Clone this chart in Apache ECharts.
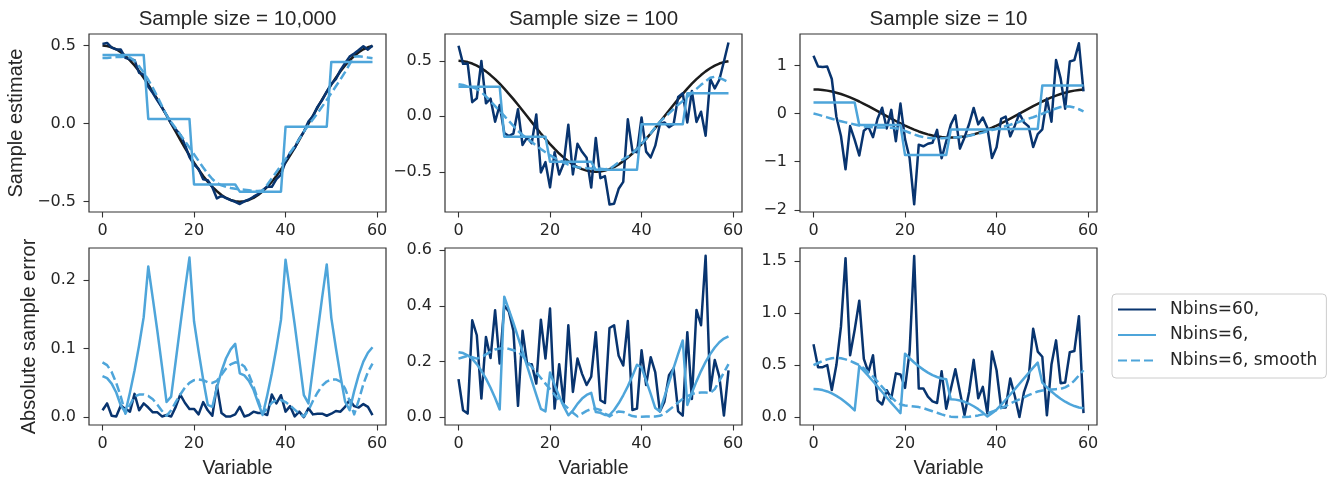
<!DOCTYPE html>
<html>
<head>
<meta charset="utf-8">
<title>Sample estimate and absolute error by sample size</title>
<script src="https://cdn.jsdelivr.net/npm/echarts@6.0.0/dist/echarts.min.js"></script>
<style>
  html, body { margin: 0; padding: 0; background: #fff; }
  #chart { width: 1338px; height: 481px; }
</style>
</head>
<body>
<div id="chart"></div>
<script>
// values, one entry per variable (0..59)
const truth = [0.500, 0.497, 0.489, 0.476, 0.457, 0.433, 0.405, 0.372, 0.335, 0.294, 0.250, 0.203, 0.155, 0.104, 0.052, 0.000, -0.052, -0.104, -0.155, -0.203,
  -0.250, -0.294, -0.335, -0.372, -0.405, -0.433, -0.457, -0.476, -0.489, -0.497, -0.500, -0.497, -0.489, -0.476, -0.457, -0.433, -0.405, -0.372, -0.335, -0.294,
  -0.250, -0.203, -0.155, -0.104, -0.052, 0.000, 0.052, 0.104, 0.155, 0.203, 0.250, 0.294, 0.335, 0.372, 0.405, 0.433, 0.457, 0.476, 0.489, 0.497];

// sample size = 10,000
const est60_10000 = [0.510, 0.517, 0.487, 0.475, 0.474, 0.421, 0.412, 0.406, 0.325, 0.314, 0.236, 0.196, 0.148, 0.103, 0.055, 0.001, -0.037, -0.071, -0.134, -0.215,
  -0.262, -0.290, -0.357, -0.362, -0.407, -0.479, -0.463, -0.477, -0.490, -0.501, -0.515, -0.498, -0.486, -0.468, -0.451, -0.427, -0.402, -0.405, -0.355, -0.326,
  -0.242, -0.187, -0.155, -0.096, -0.052, 0.013, 0.048, 0.109, 0.150, 0.205, 0.255, 0.285, 0.343, 0.387, 0.429, 0.449, 0.471, 0.495, 0.474, 0.500];
const step6_10000 = [0.44, 0.44, 0.44, 0.44, 0.44, 0.44, 0.44, 0.44, 0.44, 0.44, 0.03, 0.03, 0.03, 0.03, 0.03, 0.03, 0.03, 0.03, 0.03, 0.03,
  -0.39, -0.39, -0.39, -0.39, -0.39, -0.39, -0.39, -0.39, -0.39, -0.39, -0.436, -0.436, -0.436, -0.436, -0.436, -0.436, -0.436, -0.436, -0.436, -0.436,
  -0.02, -0.02, -0.02, -0.02, -0.02, -0.02, -0.02, -0.02, -0.02, -0.02, 0.395, 0.395, 0.395, 0.395, 0.395, 0.395, 0.395, 0.395, 0.395, 0.395];
const smooth6_10000 = [0.420, 0.421, 0.423, 0.426, 0.427, 0.428, 0.423, 0.402, 0.368, 0.327, 0.281, 0.229, 0.173, 0.113, 0.054, 0.010, -0.030, -0.071, -0.112, -0.153,
  -0.196, -0.239, -0.281, -0.321, -0.355, -0.380, -0.395, -0.405, -0.412, -0.417, -0.421, -0.423, -0.427, -0.431, -0.432, -0.428, -0.392, -0.351, -0.310, -0.269,
  -0.228, -0.186, -0.144, -0.099, -0.051, -0.010, 0.028, 0.068, 0.109, 0.151, 0.195, 0.239, 0.283, 0.330, 0.381, 0.429, 0.432, 0.428, 0.423, 0.419];
const err60_10000 = [0.010, 0.020, 0.002, 0.001, 0.017, 0.012, 0.008, 0.034, 0.010, 0.020, 0.014, 0.007, 0.007, 0.001, 0.003, 0.001, 0.015, 0.033, 0.021, 0.012,
  0.012, 0.004, 0.022, 0.010, 0.002, 0.046, 0.006, 0.001, 0.001, 0.004, 0.015, 0.001, 0.003, 0.008, 0.006, 0.006, 0.003, 0.033, 0.020, 0.032,
  0.008, 0.016, 0.001, 0.008, 0.000, 0.013, 0.004, 0.005, 0.005, 0.002, 0.005, 0.009, 0.008, 0.015, 0.025, 0.016, 0.014, 0.019, 0.015, 0.003];
const errStep6_10000 = [0.060, 0.057, 0.049, 0.036, 0.017, 0.007, 0.036, 0.068, 0.105, 0.146, 0.220, 0.173, 0.125, 0.074, 0.022, 0.030, 0.082, 0.134, 0.185, 0.233,
  0.140, 0.096, 0.055, 0.018, 0.015, 0.043, 0.067, 0.086, 0.099, 0.107, 0.064, 0.061, 0.053, 0.040, 0.021, 0.003, 0.032, 0.064, 0.101, 0.142,
  0.230, 0.183, 0.135, 0.084, 0.032, 0.020, 0.072, 0.124, 0.175, 0.223, 0.145, 0.101, 0.060, 0.023, 0.010, 0.038, 0.062, 0.081, 0.094, 0.102];
const errSmooth6_10000 = [0.080, 0.076, 0.066, 0.050, 0.030, 0.005, 0.018, 0.030, 0.033, 0.033, 0.031, 0.026, 0.018, 0.009, 0.002, 0.010, 0.022, 0.033, 0.043, 0.050,
  0.054, 0.055, 0.054, 0.051, 0.050, 0.053, 0.062, 0.071, 0.077, 0.080, 0.079, 0.074, 0.062, 0.045, 0.025, 0.005, 0.013, 0.021, 0.025, 0.025,
  0.022, 0.017, 0.011, 0.005, 0.001, 0.010, 0.024, 0.036, 0.046, 0.052, 0.055, 0.055, 0.052, 0.042, 0.024, 0.004, 0.025, 0.048, 0.066, 0.078];

// sample size = 100
const est60_100 = [0.636, 0.473, 0.477, 0.128, 0.163, 0.499, 0.117, 0.160, -0.049, 0.102, -0.150, -0.177, -0.155, 0.064, -0.258, -0.190, -0.242, 0.016, -0.505, -0.413,
  -0.640, -0.324, -0.525, -0.422, -0.075, -0.523, -0.247, -0.320, -0.374, -0.642, -0.195, -0.557, -0.539, -0.795, -0.787, -0.653, -0.590, -0.027, -0.310, -0.324,
  -0.010, -0.318, -0.370, -0.264, -0.072, -0.055, -0.098, -0.071, 0.175, 0.208, -0.055, 0.229, -0.050, 0.042, -0.175, 0.338, 0.252, 0.330, 0.494, 0.665];
const step6_100 = [0.267, 0.267, 0.267, 0.267, 0.267, 0.267, 0.267, 0.267, 0.267, 0.267, -0.183, -0.183, -0.183, -0.183, -0.183, -0.183, -0.183, -0.183, -0.183, -0.183,
  -0.41, -0.41, -0.41, -0.41, -0.41, -0.41, -0.41, -0.41, -0.41, -0.41, -0.482, -0.482, -0.482, -0.482, -0.482, -0.482, -0.482, -0.482, -0.482, -0.482,
  -0.072, -0.072, -0.072, -0.072, -0.072, -0.072, -0.072, -0.072, -0.072, -0.072, 0.207, 0.207, 0.207, 0.207, 0.207, 0.207, 0.207, 0.207, 0.207, 0.207];
const smooth6_100 = [0.290, 0.282, 0.269, 0.261, 0.247, 0.218, 0.180, 0.137, 0.092, 0.048, 0.004, -0.042, -0.086, -0.131, -0.168, -0.200, -0.232, -0.264, -0.295, -0.323,
  -0.350, -0.374, -0.395, -0.417, -0.435, -0.448, -0.459, -0.464, -0.467, -0.469, -0.470, -0.472, -0.477, -0.474, -0.445, -0.413, -0.387, -0.362, -0.332, -0.293,
  -0.249, -0.201, -0.153, -0.102, -0.048, -0.012, 0.027, 0.066, 0.103, 0.138, 0.175, 0.212, 0.248, 0.284, 0.317, 0.347, 0.357, 0.346, 0.329, 0.307];
const err60_100 = [0.136, 0.024, 0.012, 0.348, 0.294, 0.066, 0.288, 0.212, 0.384, 0.192, 0.400, 0.380, 0.310, 0.040, 0.310, 0.190, 0.190, 0.120, 0.350, 0.210,
  0.390, 0.030, 0.190, 0.050, 0.330, 0.090, 0.210, 0.155, 0.115, 0.145, 0.305, 0.060, 0.050, 0.320, 0.330, 0.220, 0.185, 0.345, 0.025, 0.030,
  0.240, 0.115, 0.215, 0.160, 0.020, 0.055, 0.150, 0.175, 0.020, 0.005, 0.305, 0.065, 0.385, 0.330, 0.580, 0.095, 0.205, 0.145, 0.005, 0.168];
const errStep6_100 = [0.233, 0.230, 0.222, 0.209, 0.190, 0.166, 0.138, 0.105, 0.068, 0.027, 0.433, 0.386, 0.338, 0.287, 0.235, 0.183, 0.131, 0.079, 0.029, 0.020,
  0.160, 0.116, 0.075, 0.038, 0.006, 0.023, 0.047, 0.066, 0.079, 0.087, 0.018, 0.015, 0.007, 0.007, 0.025, 0.049, 0.078, 0.110, 0.147, 0.188,
  0.178, 0.131, 0.083, 0.032, 0.020, 0.072, 0.124, 0.176, 0.227, 0.275, 0.043, 0.087, 0.128, 0.165, 0.198, 0.226, 0.250, 0.269, 0.282, 0.290];
const errSmooth6_100 = [0.210, 0.215, 0.220, 0.215, 0.210, 0.215, 0.225, 0.235, 0.243, 0.246, 0.246, 0.245, 0.240, 0.235, 0.220, 0.200, 0.180, 0.160, 0.140, 0.120,
  0.100, 0.080, 0.060, 0.045, 0.030, 0.015, 0.002, 0.012, 0.022, 0.028, 0.030, 0.025, 0.012, 0.002, 0.012, 0.020, 0.018, 0.010, 0.003, 0.001,
  0.001, 0.002, 0.002, 0.002, 0.004, 0.012, 0.025, 0.038, 0.052, 0.065, 0.075, 0.082, 0.087, 0.088, 0.088, 0.086, 0.100, 0.130, 0.160, 0.190];

// sample size = 10
const est60_10 = [1.200, 0.977, 0.969, 0.975, 0.717, -0.067, -0.466, -1.158, -0.260, -0.546, -0.870, -0.357, -0.276, -0.491, -0.108, 0.120, -0.310, 0.076, -0.575, 0.207,
  -0.530, -0.924, -1.885, -0.647, -0.680, -0.628, -0.607, -0.340, -0.929, -0.577, -0.230, -0.037, -0.729, -0.496, -0.217, 0.117, -0.225, -0.082, -0.300, -0.924,
  -0.700, -0.113, -0.065, -0.474, -0.252, 0.000, -0.188, -0.266, -0.695, -0.427, -0.330, 0.310, -0.170, 1.110, 0.730, 0.100, 1.080, 1.110, 1.460, 0.460];
const step6_10 = [0.23, 0.23, 0.23, 0.23, 0.23, 0.23, 0.23, 0.23, 0.23, 0.23, -0.24, -0.24, -0.24, -0.24, -0.24, -0.24, -0.24, -0.24, -0.24, -0.24,
  -0.86, -0.86, -0.86, -0.86, -0.86, -0.86, -0.86, -0.86, -0.86, -0.86, -0.33, -0.33, -0.33, -0.33, -0.33, -0.33, -0.33, -0.33, -0.33, -0.33,
  -0.32, -0.32, -0.32, -0.32, -0.32, -0.32, -0.32, -0.32, -0.32, -0.32, 0.58, 0.58, 0.58, 0.58, 0.58, 0.58, 0.58, 0.58, 0.58, 0.58];
const smooth6_10 = [0.000, -0.023, -0.051, -0.080, -0.108, -0.137, -0.161, -0.183, -0.205, -0.226, -0.250, -0.267, -0.276, -0.286, -0.288, -0.290, -0.292, -0.294, -0.305, -0.323,
  -0.360, -0.399, -0.435, -0.467, -0.490, -0.503, -0.512, -0.516, -0.514, -0.509, -0.503, -0.497, -0.489, -0.476, -0.460, -0.441, -0.420, -0.397, -0.370, -0.344,
  -0.315, -0.288, -0.260, -0.234, -0.202, -0.170, -0.138, -0.106, -0.076, -0.042, -0.005, 0.034, 0.070, 0.104, 0.135, 0.148, 0.147, 0.126, 0.089, 0.047];
const err60_10 = [0.700, 0.480, 0.480, 0.500, 0.260, 0.500, 0.870, 1.530, 0.595, 0.840, 1.120, 0.560, 0.430, 0.595, 0.160, 0.120, 0.258, 0.180, 0.420, 0.410,
  0.280, 0.630, 1.550, 0.275, 0.275, 0.195, 0.150, 0.135, 0.440, 0.080, 0.270, 0.460, 0.240, 0.020, 0.240, 0.550, 0.180, 0.290, 0.035, 0.630,
  0.450, 0.090, 0.090, 0.370, 0.200, 0.000, 0.240, 0.370, 0.850, 0.630, 0.580, 0.016, 0.505, 0.738, 0.325, 0.333, 0.623, 0.635, 0.971, 0.037];
const errStep6_10 = [0.270, 0.267, 0.259, 0.246, 0.227, 0.203, 0.175, 0.142, 0.105, 0.064, 0.490, 0.443, 0.395, 0.344, 0.292, 0.240, 0.188, 0.136, 0.086, 0.037,
  0.610, 0.566, 0.525, 0.488, 0.456, 0.427, 0.403, 0.385, 0.371, 0.363, 0.170, 0.167, 0.159, 0.146, 0.127, 0.103, 0.075, 0.042, 0.005, 0.036,
  0.070, 0.117, 0.166, 0.216, 0.268, 0.320, 0.372, 0.424, 0.475, 0.523, 0.330, 0.286, 0.245, 0.208, 0.176, 0.147, 0.123, 0.105, 0.091, 0.083];
const errSmooth6_10 = [0.500, 0.520, 0.540, 0.555, 0.565, 0.570, 0.565, 0.555, 0.540, 0.520, 0.500, 0.470, 0.430, 0.390, 0.340, 0.290, 0.240, 0.190, 0.150, 0.120,
  0.110, 0.105, 0.100, 0.095, 0.085, 0.070, 0.055, 0.040, 0.025, 0.012, 0.003, 0.000, 0.000, 0.000, 0.003, 0.008, 0.015, 0.025, 0.035, 0.050,
  0.065, 0.085, 0.105, 0.130, 0.150, 0.170, 0.190, 0.210, 0.230, 0.245, 0.255, 0.260, 0.265, 0.268, 0.270, 0.285, 0.310, 0.350, 0.400, 0.450];

const titles = ['Sample size = 10,000', 'Sample size = 100', 'Sample size = 10'];
const legendNames = ['Nbins=60,', 'Nbins=6,', 'Nbins=6, smooth'];
const xTicks = [0, 20, 40, 60];
const yTicks = [[-0.5, 0, 0.5], [-0.5, 0, 0.5], [-2, -1, 0, 1], [0, 0.1, 0.2], [0, 0.2, 0.4, 0.6], [0, 0.5, 1, 1.5]];

// layout / style
const DARK = '#08346f';
const LIGHT = '#4ea5da';
const BLACK = '#1c1c1c';
const INK = '#262626';
const FRAME = '#333333';
const SANS = '"Liberation Sans", Arial, sans-serif';
const MATH = '"DejaVu Sans", sans-serif';
const LW = 2.5;

const grids = [
  { left: 89, top: 34, width: 297, height: 178 },
  { left: 445, top: 34, width: 297, height: 178 },
  { left: 800, top: 34, width: 297, height: 178 },
  { left: 89, top: 248, width: 297, height: 177 },
  { left: 445, top: 248, width: 297, height: 177 },
  { left: 800, top: 248, width: 297, height: 177 }
];
const yRanges = [[-0.566, 0.574], [-0.862, 0.742], [-2.045, 1.652], [-0.0115, 0.247], [-0.029, 0.608], [-0.0775, 1.628]];
const yDecimals = [1, 1, 0, 1, 1, 1];
const yNames = ['Sample estimate', '', '', 'Absolute sample error', '', ''];
const yNameGaps = [63, 0, 0, 50, 0, 0];

const kinds = [
  { name: legendNames[0], color: DARK, dash: 'solid' },
  { name: legendNames[1], color: LIGHT, dash: 'solid' },
  { name: legendNames[2], color: LIGHT, dash: [9, 4] }
];

const columns = [
  { est: [est60_10000, step6_10000, smooth6_10000], err: [err60_10000, errStep6_10000, errSmooth6_10000] },
  { est: [est60_100, step6_100, smooth6_100], err: [err60_100, errStep6_100, errSmooth6_100] },
  { est: [est60_10, step6_10, smooth6_10], err: [err60_10, errStep6_10, errSmooth6_10] }
];

const fmt = (v, dec) => (v < 0 ? '\u2212' : '') + Math.abs(v).toFixed(dec);

function lineSeries(vals, idx, color, dash, name) {
	return {
		type: 'line',
		name: name,
		xAxisIndex: idx,
		yAxisIndex: idx,
		data: vals.map((v, i) => [i, v]),
		symbol: 'none',
		showSymbol: false,
		silent: true,
		lineStyle: { color: color, width: LW, type: dash, join: 'round' },
		itemStyle: { color: color },
		emphasis: { disabled: true }
	};
}

const series = [];
columns.forEach((col, c) => {
	series.push(lineSeries(truth, c, BLACK, 'solid', 'truth'));
	col.est.forEach((vals, k) => series.push(lineSeries(vals, c, kinds[k].color, kinds[k].dash, kinds[k].name)));
	col.err.forEach((vals, k) => series.push(lineSeries(vals, c + 3, kinds[k].color, kinds[k].dash, kinds[k].name)));
});

const tickStyle = { color: FRAME, width: 1.1 };

const option = {
	animation: false,
	backgroundColor: '#ffffff',
	title: titles.map((t, k) => ({
		text: t,
		left: grids[k].left + grids[k].width / 2,
		top: 9,
		textAlign: 'center',
		textVerticalAlign: 'top',
		padding: 0,
		textStyle: { fontFamily: SANS, fontSize: 20.5, fontWeight: 'normal', color: INK }
	})),
	grid: grids.map((g) => Object.assign({
		show: true,
		borderColor: FRAME,
		borderWidth: 1.2,
		backgroundColor: 'transparent',
		containLabel: false,
		outerBoundsMode: 'none'
	}, g)),
	xAxis: grids.map((g, i) => ({
		type: 'value',
		gridIndex: i,
		min: -2.95,
		max: 61.95,
		name: i >= 3 ? 'Variable' : '',
		nameLocation: 'middle',
		nameGap: 34,
		nameTextStyle: { fontFamily: SANS, fontSize: 19.5, color: INK },
		axisLine: { show: false, onZero: false },
		axisTick: { show: true, length: 5.5, customValues: xTicks, lineStyle: tickStyle },
		axisLabel: { customValues: xTicks, margin: 11, fontFamily: MATH, fontSize: 16, color: INK, formatter: (v) => String(v) },
		splitLine: { show: false }
	})),
	yAxis: grids.map((g, i) => ({
		type: 'value',
		gridIndex: i,
		min: yRanges[i][0],
		max: yRanges[i][1],
		name: yNames[i],
		nameLocation: 'middle',
		nameGap: yNameGaps[i],
		nameTextStyle: { fontFamily: SANS, fontSize: 20, color: INK },
		axisLine: { show: false, onZero: false },
		axisTick: { show: true, length: 5.5, customValues: yTicks[i], lineStyle: tickStyle },
		axisLabel: { customValues: yTicks[i], margin: 13, fontFamily: MATH, fontSize: 16, color: INK, formatter: (v) => fmt(v, yDecimals[i]) },
		splitLine: { show: false }
	})),
	legend: {
		data: legendNames,
		orient: 'vertical',
		left: 1112,
		top: 294,
		itemWidth: 38,
		itemHeight: 14,
		itemGap: 5.5,
		padding: [5.5, 9, 7.5, 5],
		backgroundColor: '#ffffff',
		borderColor: '#cccccc',
		borderWidth: 1,
		borderRadius: 4,
		selectedMode: false,
		itemStyle: { opacity: 0 },
		textStyle: { fontFamily: MATH, fontSize: 17, color: INK, lineHeight: 20, padding: [0, 0, 0, 9] }
	},
	series: series
};

const myChart = echarts.init(document.getElementById('chart'), null, { renderer: 'canvas' });
myChart.setOption(option);
</script>
</body>
</html>
